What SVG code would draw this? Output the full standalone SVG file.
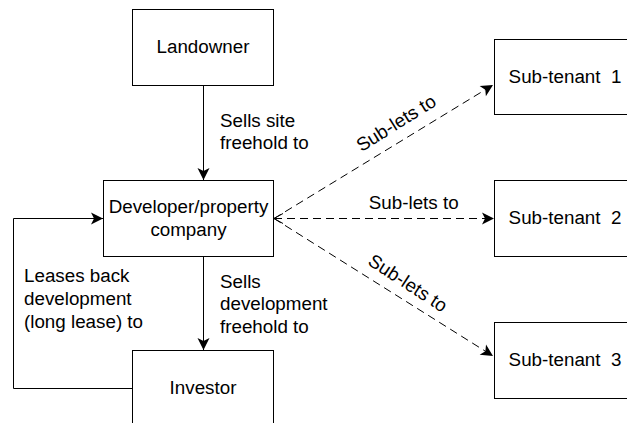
<svg xmlns="http://www.w3.org/2000/svg" width="627" height="423" viewBox="0 0 627 423">
<defs>
<style>
.box{fill:#fff;stroke:#000;stroke-width:1}
.t{font-family:"Liberation Sans",Arial,Helvetica,sans-serif;font-size:18.8px;fill:#000}
.c{text-anchor:middle}
.ln{fill:none;stroke:#000;stroke-width:1}
.dash{stroke-dasharray:8 5}
</style>
<marker id="arr" markerUnits="userSpaceOnUse" markerWidth="14" markerHeight="14" viewBox="-13 -7 14 14" refX="0" refY="0" orient="auto">
<path d="M0,0 L-12,-6 L-9,0 L-12,6 Z" fill="#000"/>
</marker>
<marker id="open" markerUnits="userSpaceOnUse" markerWidth="14" markerHeight="14" viewBox="-1 -7 14 14" refX="0" refY="0" orient="auto">
<path d="M9,-5 L0,0 L9,5" fill="none" stroke="#000" stroke-width="1"/>
</marker>
</defs>
<rect width="627" height="423" fill="#fff"/>
<g id="connectors">
<path class="ln" d="M203.5,85.5 V180" marker-end="url(#arr)"/>
<path class="ln" d="M203.5,256.5 V350" marker-end="url(#arr)"/>
<path class="ln" d="M132.5,388.5 H13.5 V218.5 H103" marker-end="url(#arr)"/>
<path class="ln dash" d="M274,218.5 L493,85" marker-end="url(#arr)"/>
<path class="ln dash" d="M274,218.5 L494,218.5" marker-start="url(#open)" marker-end="url(#arr)"/>
<path class="ln dash" d="M274,218.5 L493,356" marker-end="url(#arr)"/>
<text class="t" x="220" y="126.5">Sells site</text>
<text class="t" x="220" y="148.5">freehold to</text>
<text class="t" x="220" y="287.5">Sells</text>
<text class="t" x="220" y="310">development</text>
<text class="t" x="220" y="332.7">freehold to</text>
<text class="t" x="24" y="282.3">Leases back</text>
<text class="t" x="24" y="305">development</text>
<text class="t" x="24" y="327.7">(long lease) to</text>
<text class="t c" transform="translate(396,123) rotate(-32)" x="0" y="6.5">Sub-lets to</text>
<text class="t c" x="413.7" y="209.3">Sub-lets to</text>
<text class="t c" transform="translate(408,283) rotate(33)" x="0" y="6.5">Sub-lets to</text>
</g>
<g id="landowner">
<rect class="box" x="132.5" y="9.5" width="141" height="76"/>
<text class="t c" x="203" y="53.3">Landowner</text>
</g>
<g id="developer">
<rect class="box" x="103.5" y="180.5" width="170" height="76"/>
<text class="t c" x="188.5" y="213">Developer/property</text>
<text class="t c" x="188.5" y="236">company</text>
</g>
<g id="investor">
<rect class="box" x="132.5" y="350.5" width="141" height="76"/>
<text class="t c" x="203" y="394.3">Investor</text>
</g>
<g id="subtenant1">
<rect class="box" x="494.5" y="39.5" width="141" height="75"/>
<text class="t c" x="565" y="83.3" xml:space="preserve">Sub-tenant  1</text>
</g>
<g id="subtenant2">
<rect class="box" x="494.5" y="180.5" width="141" height="76"/>
<text class="t c" x="565" y="224.3" xml:space="preserve">Sub-tenant  2</text>
</g>
<g id="subtenant3">
<rect class="box" x="494.5" y="322.5" width="141" height="76"/>
<text class="t c" x="565" y="365.7" xml:space="preserve">Sub-tenant  3</text>
</g>
</svg>
